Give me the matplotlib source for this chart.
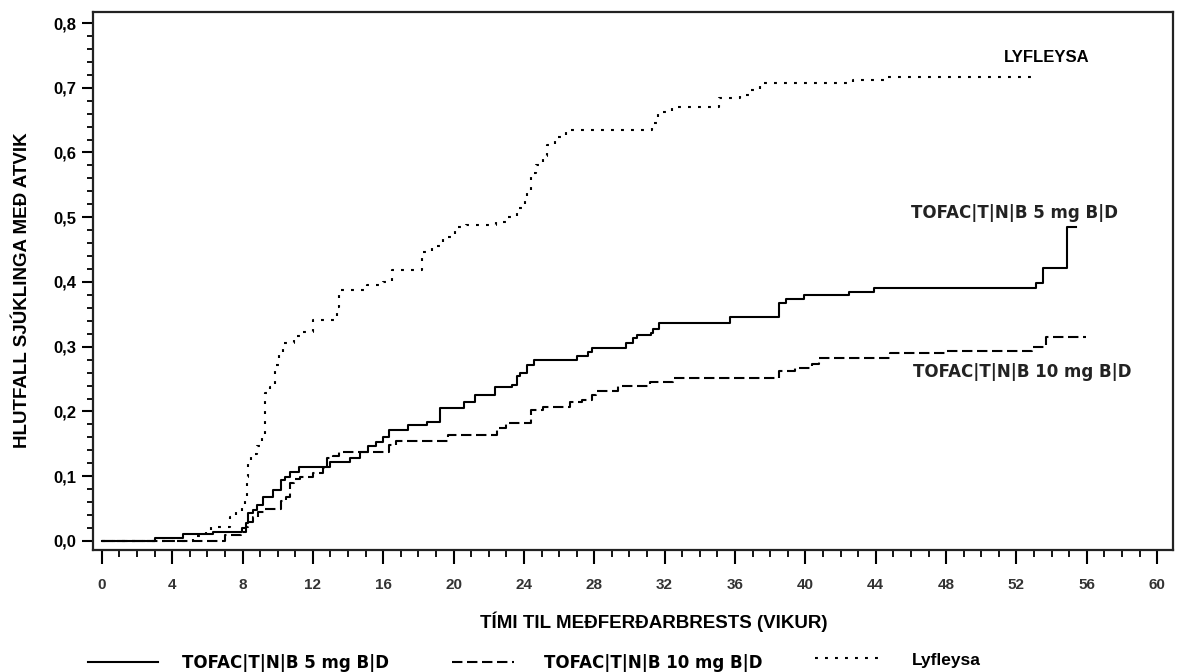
import matplotlib
matplotlib.use("Agg")
import matplotlib.pyplot as plt
from matplotlib import font_manager
from matplotlib.ticker import FixedLocator, MultipleLocator

# ---------------- data ----------------
t5 = [0, 3.0, 4.6, 6.3, 7.95, 8.2, 8.33, 8.6, 8.8, 9.15, 9.75, 10.2, 10.4, 10.7, 11.2,
      13.0, 14.1, 14.7, 15.15, 15.6, 16.0, 16.3, 17.4, 18.5, 19.2, 20.6, 21.2, 22.35,
      23.3, 23.6, 23.8, 24.15, 24.6, 27.0, 27.65, 27.85, 29.8, 30.2, 30.4, 31.25, 31.35,
      31.7, 35.7, 38.5, 38.9, 39.95, 42.5, 43.9, 53.1, 53.5, 54.9, 55.4]
v5 = [0, 0.005, 0.011, 0.014, 0.02, 0.027, 0.043, 0.048, 0.056, 0.068, 0.079, 0.094, 0.099,
      0.107, 0.114, 0.122, 0.128, 0.138, 0.146, 0.153, 0.161, 0.171, 0.179, 0.184, 0.205,
      0.215, 0.225, 0.238, 0.241, 0.254, 0.259, 0.272, 0.28, 0.285, 0.292, 0.298, 0.305,
      0.313, 0.318, 0.321, 0.328, 0.336, 0.346, 0.367, 0.373, 0.38, 0.385, 0.39, 0.398,
      0.421, 0.485, 0.485]

t10 = [0, 7.0, 7.9, 8.2, 8.3, 8.6, 8.9, 9.3, 10.2, 10.5, 10.7, 10.9, 11.25, 12.0, 12.6,
       12.8, 13.15, 13.5, 16.3, 16.7, 19.7, 22.45, 23.0, 24.4, 25.1, 26.6, 27.3, 27.85,
       28.1, 29.35, 31.15, 32.5, 38.5, 39.4, 40.4, 40.8, 44.8, 48.0, 52.9, 53.7, 55.95]
v10 = [0, 0.009, 0.014, 0.022, 0.03, 0.037, 0.045, 0.05, 0.061, 0.068, 0.089, 0.095, 0.099,
       0.105, 0.112, 0.128, 0.131, 0.138, 0.148, 0.155, 0.164, 0.174, 0.182, 0.202, 0.207,
       0.214, 0.218, 0.225, 0.232, 0.24, 0.246, 0.251, 0.263, 0.267, 0.274, 0.282, 0.29,
       0.294, 0.30, 0.315, 0.315]

tp = [0, 5.2, 5.9, 6.2, 7.3, 7.65, 7.95, 8.14, 8.23, 8.33, 8.46, 8.8, 9.1, 9.28, 9.56,
      9.85, 10.1, 10.3, 10.9, 11.4, 12.0, 13.35, 13.5, 15.05, 16.0, 16.5, 18.2, 18.8,
      19.4, 20.1, 20.7, 22.4, 23.0, 23.6, 24.05, 24.2, 24.4, 24.7, 25.1, 25.3, 25.75,
      26.4, 31.3, 31.6, 32.4, 35.1, 36.3, 36.8, 37.4, 42.7, 44.5, 53.1]
vp = [0, 0.008, 0.014, 0.022, 0.037, 0.045, 0.053, 0.068, 0.099, 0.12, 0.135, 0.146,
      0.164, 0.228, 0.238, 0.272, 0.29, 0.305, 0.316, 0.323, 0.341, 0.362, 0.388, 0.395,
      0.40, 0.419, 0.447, 0.455, 0.47, 0.485, 0.488, 0.493, 0.50, 0.514, 0.529, 0.539,
      0.568, 0.581, 0.594, 0.612, 0.624, 0.635, 0.645, 0.663, 0.671, 0.684, 0.689, 0.697,
      0.707, 0.712, 0.717, 0.717]

series_labels = ["TOFAC|T|N|B 5 mg B|D", "TOFAC|T|N|B 10 mg B|D", "Lyfleysa"]
xticks = list(range(0, 61, 4))
yticks = [0.0, 0.1, 0.2, 0.3, 0.4, 0.5, 0.6, 0.7, 0.8]
ytick_labels = ["0,0", "0,1", "0,2", "0,3", "0,4", "0,5", "0,6", "0,7", "0,8"]
xlabel = "TÍMI TIL MEÐFERÐARBRESTS (VIKUR)"
ylabel = "HLUTFALL SJÚKLINGA MEÐ ATVIK"

# ---------------- fonts ----------------
names = {f.name for f in font_manager.fontManager.ttflist}
base = "Liberation Sans" if "Liberation Sans" in names else "DejaVu Sans"
wide = "DejaVu Sans"
plt.rcParams["font.family"] = [base, "DejaVu Sans"]

fig = plt.figure(figsize=(11.8, 6.72), dpi=100)
ax = fig.add_axes([93 / 1180, 1 - 550 / 672, (1173 - 93) / 1180, (550 - 12) / 672])

lw = 1.5
l5, = ax.step(t5, v5, where="post", color="black", lw=lw, linestyle="-")
l10, = ax.step(t10, v10, where="post", color="black", lw=lw, linestyle=(0, (5, 2.2)))
lp, = ax.step(tp, vp, where="post", color="black", lw=lw, linestyle=(0, (1.4, 3.4)))

ax.set_xlim(-0.5, 60.9)
ax.set_ylim(-0.014, 0.817)

ax.xaxis.set_major_locator(FixedLocator(xticks))
ax.set_xticklabels([str(v) for v in xticks])
ax.xaxis.set_minor_locator(MultipleLocator(1))
ax.yaxis.set_major_locator(FixedLocator(yticks))
ax.set_yticklabels(ytick_labels)
ax.yaxis.set_minor_locator(MultipleLocator(0.02))

ax.tick_params(axis="x", which="major", direction="out", length=10, width=1.5, pad=10,
               labelsize=11, labelcolor="#333333")
ax.tick_params(axis="x", which="minor", direction="out", length=5, width=1.3)
ax.tick_params(axis="y", which="major", direction="out", length=8, width=1.5, pad=4,
               labelsize=12)
ax.tick_params(axis="y", which="minor", direction="out", length=4, width=1.3)
for lab in ax.get_xticklabels():
    lab.set_fontweight("bold")
for lab in ax.get_yticklabels():
    lab.set_fontweight("bold")

for s in ax.spines.values():
    s.set_linewidth(1.6)
    s.set_color("#222222")

ax.set_xlabel(xlabel, fontsize=13.5, fontweight="bold")
ax.xaxis.set_label_coords(0.519, -0.115)
ax.set_ylabel(ylabel, fontsize=13.5, fontweight="bold")
ax.yaxis.set_label_coords(-0.0574, 0.483)

ax.text(53.7, 0.747, "LYFLEYSA", ha="center", va="center", fontsize=12, fontweight="bold")
ax.text(51.9, 0.507, series_labels[0], ha="center", va="center", fontsize=12,
        fontweight="bold", color="#222222", family=wide)
ax.text(52.35, 0.261, series_labels[1], ha="center", va="center", fontsize=12,
        fontweight="bold", color="#222222", family=wide)

# legend (three separate entries, positioned like the original)
common = dict(frameon=False, borderpad=0, borderaxespad=0, loc="center left")
fs = 12
fig.legend(handles=[l5], labels=[series_labels[0]], bbox_to_anchor=(88 / 1180, 1 - 663 / 672),
           handlelength=70 * 0.72 / fs, handletextpad=24 * 0.72 / fs,
           prop=dict(size=fs, weight="bold", family=wide), **common)
fig.legend(handles=[l10], labels=[series_labels[1]], bbox_to_anchor=(452 / 1180, 1 - 663 / 672),
           handlelength=62 * 0.72 / fs, handletextpad=30 * 0.72 / fs,
           prop=dict(size=fs, weight="bold", family=wide), **common)
fig.legend(handles=[lp], labels=[series_labels[2]], bbox_to_anchor=(815 / 1180, 1 - 660 / 672),
           handlelength=70 * 0.72 / 12.5, handletextpad=27 * 0.72 / 12.5,
           prop=dict(size=12.5, weight="bold"), **common)

fig.savefig("out.png", dpi=100)
